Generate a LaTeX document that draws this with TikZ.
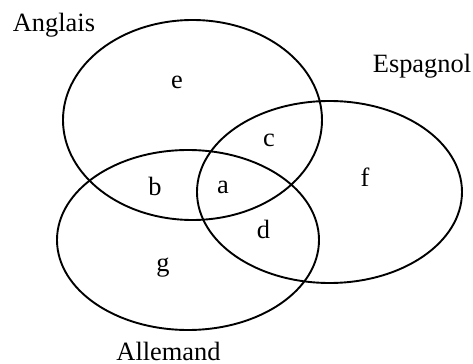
\documentclass[tikz,border=0pt]{standalone}
\usepackage{fontspec}
\setmainfont{Liberation Serif}
\tikzset{
    vennset/.style={draw, line width=0.95pt},
    vennname/.style={font=\fontsize{13.2}{15}\selectfont, anchor=base, inner sep=0pt},
    vennzone/.style={font=\fontsize{13.2}{15}\selectfont, anchor=base, inner sep=0pt}
}
\begin{document}
\begin{tikzpicture}[x=0.5pt, y=-0.5pt]
    \useasboundingbox (0,0) rectangle (473,364);
    \coordinate (anglais) at (192.5,120);
    \coordinate (espagnol) at (329.5,192);
    \coordinate (allemand) at (188,240);
    \draw[vennset] (anglais) ellipse [x radius=64.75pt, y radius=50pt];
    \draw[vennset] (espagnol) ellipse [x radius=66.25pt, y radius=45.5pt];
    \draw[vennset] (allemand) ellipse [x radius=65.5pt, y radius=45pt];

    \node[vennname] (nomanglais) at (54,32) {Anglais};
    \node[vennname] (nomespagnol) at (422,73) {Espagnol};
    \node[vennname] (nomallemand) at (168.5,360.5) {Allemand};

    \node[vennzone] (zonee) at (177,89) {e};
    \node[vennzone] (zoneb) at (155,196) {b};
    \node[vennzone] (zonea) at (223,193) {a};
    \node[vennzone] (zonec) at (269,147) {c};
    \node[vennzone] (zonef) at (365,186) {f};
    \node[vennzone] (zoned) at (263.5,239) {d};
    \node[vennzone] (zoneg) at (163,271) {g};
\end{tikzpicture}
\end{document}
